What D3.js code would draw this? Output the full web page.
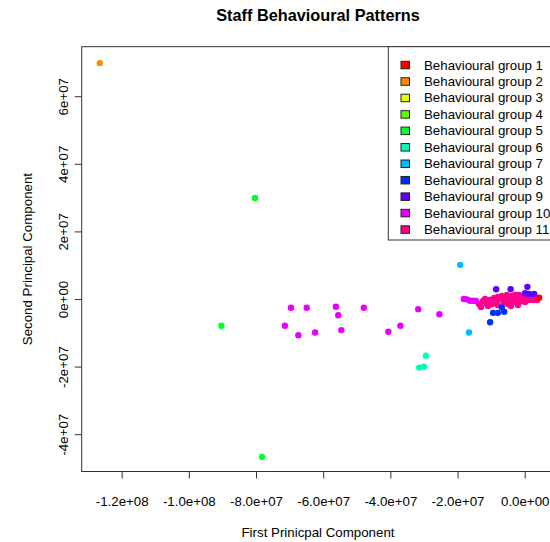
<!DOCTYPE html>
<html>
<head>
<meta charset="utf-8">
<script src="https://cdn.jsdelivr.net/npm/d3@7"></script>
<style>
  body { margin: 0; background: #fff; }
  text { font-family: "Liberation Sans", Arial, Helvetica, sans-serif; fill: #000; }
</style>
</head>
<body>
<div id="scatterPlot"></div>
<script>
// ---- data: [first PC, second PC] per behavioural group ----
const groupNames = ["Behavioural group 1", "Behavioural group 2", "Behavioural group 3",
  "Behavioural group 4", "Behavioural group 5", "Behavioural group 6", "Behavioural group 7",
  "Behavioural group 8", "Behavioural group 9", "Behavioural group 10", "Behavioural group 11"];
const groupColors = ["#FF0000", "#FF8B00", "#E8FF00", "#5DFF00", "#00FF2E", "#00FFB9",
  "#00B9FF", "#002EFF", "#5D00FF", "#E800FF", "#FF008B"];

const group1 = [[4.3e6, 0.4e6]];
const group2 = [[-126.5e6, 69.8e6]];
const group3 = [];
const group4 = [];
const group5 = [[-80.3e6, 29.9e6], [-90.3e6, -7.9e6], [-78.2e6, -46.7e6]];
const group6 = [[-29.4e6, -16.8e6], [-30.0e6, -20.0e6], [-31.4e6, -20.3e6]];
const group7 = [[-19.2e6, 10.1e6], [-16.6e6, -9.9e6]];
const group8 = [[-6.8e6, -2.5e6], [-6.1e6, -3.8e6], [-9.4e6, -4.1e6], [-8.0e6, -4.1e6], [-10.3e6, -6.9e6]];
const group9 = [[-8.5e6, 2.9e6], [-4.2e6, 2.9e6], [0.8e6, 3.6e6], [0.1e6, 1.7e6], [1.3e6, 1.5e6], [2.8e6, 1.5e6]];
const group10 = [[-69.6e6, -2.6e6], [-64.9e6, -2.6e6], [-71.4e6, -7.9e6], [-67.4e6, -10.7e6],
  [-62.4e6, -9.9e6], [-56.2e6, -2.3e6], [-55.5e6, -4.8e6], [-54.6e6, -9.2e6], [-47.9e6, -2.6e6],
  [-40.6e6, -9.7e6], [-37.0e6, -7.9e6], [-31.7e6, -3.0e6], [-25.4e6, -4.5e6], [-18.1e6, 0.0e6],
  [-17.2e6, -0.1e6], [-16.3e6, -0.5e6], [-15.3e6, -0.5e6], [-14.5e6, -0.6e6]];
const group11 = [[-13.6e6, -1.5e6], [-13.0e6, -2.4e6], [-12.4e6, -0.6e6], [-11.5e6, -1.2e6],
  [-10.9e6, -2.1e6], [-10.3e6, -0.3e6], [-9.7e6, -1.5e6], [-9.1e6, 0.3e6], [-8.5e6, -0.9e6],
  [-8.0e6, -1.8e6], [-7.4e6, 0.0e6], [-6.8e6, 0.9e6], [-6.2e6, -0.9e6], [-5.6e6, 0.3e6],
  [-5.0e6, -1.5e6], [-4.4e6, -0.3e6], [-3.8e6, 0.9e6], [-3.2e6, -0.9e6], [-2.6e6, 0.0e6],
  [-2.0e6, -1.8e6], [-1.7e6, 1.2e6], [-1.1e6, -0.6e6], [-0.5e6, 0.3e6], [0.1e6, -0.9e6],
  [0.7e6, 0.6e6], [1.3e6, -0.3e6], [1.9e6, 0.6e6], [2.5e6, -0.3e6], [3.1e6, 0.3e6],
  [3.7e6, -0.3e6], [-8.0e6, 0.6e6], [-5.3e6, 1.2e6], [-2.9e6, 1.2e6], [-4.1e6, -2.1e6],
  [-11.8e6, 0.0e6], [-9.4e6, -0.3e6]];

const groups = [group1, group2, group3, group4, group5, group6, group7, group8, group9, group10, group11];

const xTicks = [-1.2e8, -1.0e8, -8.0e7, -6.0e7, -4.0e7, -2.0e7, 0];
const xTickLabels = ["-1.2e+08", "-1.0e+08", "-8.0e+07", "-6.0e+07", "-4.0e+07", "-2.0e+07", "0.0e+00"];
const yTicks = [-4e7, -2e7, 0, 2e7, 4e7, 6e7];
const yTickLabels = ["-4e+07", "-2e+07", "0e+00", "2e+07", "4e+07", "6e+07"];

// ---- layout ----
const W = 550, H = 542;
const plotLeft = 81.7, plotRight = 554.3, plotTop = 46.7, plotBottom = 471.5;
const fontSize = 13.3;

const svg = d3.select('#scatterPlot').append('svg')
  .attr("width", W)
  .attr("height", H)
  .style("display", "block");

svg.append("rect").attr("width", W).attr("height", H).attr("fill", "#fff");

var x = d3.scaleLinear()
  .domain([-131.9e6, 8.81e6])
  .range([plotLeft, plotRight]);
var y = d3.scaleLinear()
  .domain([-51.04e6, 74.65e6])
  .range([plotBottom, plotTop]);

// points: pink group first so other groups sit on top of it
const drawOrder = [10, 9, 0, 1, 2, 3, 4, 5, 6, 7, 8];
const points = [];
drawOrder.forEach(function (g) {
  groups[g].forEach(function (p) { points.push({ pc1: p[0], pc2: p[1], group: g }); });
});

svg.append('g')
  .selectAll("circle")
  .data(points)
  .enter()
  .append("circle")
    .attr("cx", function (d) { return x(d.pc1); })
    .attr("cy", function (d) { return y(d.pc2); })
    .attr("r", 3.2)
    .style("fill", function (d) { return groupColors[d.group]; });

// box
svg.append("rect")
  .attr("x", plotLeft).attr("y", plotTop)
  .attr("width", plotRight - plotLeft).attr("height", plotBottom - plotTop)
  .attr("fill", "none").attr("stroke", "#333").attr("stroke-width", 1);

// X axis
var xAxis = svg.append("g")
  .attr("transform", "translate(0," + plotBottom + ")")
  .call(d3.axisBottom(x).tickValues(xTicks).tickSize(7).tickPadding(18)
    .tickFormat(function (d, i) { return xTickLabels[i]; }));
xAxis.select(".domain").remove();
xAxis.selectAll("line").attr("stroke", "#333");
xAxis.selectAll("text").style("font-size", fontSize + "px")
  .style("font-family", "'Liberation Sans', Arial, sans-serif");

// Y axis
var yAxis = svg.append("g")
  .attr("transform", "translate(" + plotLeft + ",0)")
  .call(d3.axisLeft(y).tickValues(yTicks).tickSize(7)
    .tickFormat(function (d, i) { return yTickLabels[i]; }));
yAxis.select(".domain").remove();
yAxis.selectAll("line").attr("stroke", "#333");
yAxis.selectAll("text")
  .attr("x", null).attr("dy", null)
  .attr("text-anchor", "middle")
  .attr("transform", "translate(-13.5,0) rotate(-90)")
  .style("font-size", fontSize + "px")
  .style("font-family", "'Liberation Sans', Arial, sans-serif");

// titles
const midX = (plotLeft + plotRight) / 2;
svg.append("text")
  .attr("x", midX).attr("y", 21)
  .attr("text-anchor", "middle")
  .style("font-size", "16.3px").style("font-weight", "bold")
  .text("Staff Behavioural Patterns");
svg.append("text")
  .attr("x", midX).attr("y", 537)
  .attr("text-anchor", "middle")
  .style("font-size", fontSize + "px")
  .text("First Prinicpal Component");
svg.append("text")
  .attr("transform", "translate(32," + ((plotTop + plotBottom) / 2) + ") rotate(-90)")
  .attr("text-anchor", "middle")
  .style("font-size", fontSize + "px")
  .text("Second Principal Component");

// legend
const legendLeft = 388.3, legendBottom = 240, rowStart = 64.8, rowStep = 16.45;
svg.append("rect")
  .attr("x", legendLeft).attr("y", plotTop)
  .attr("width", plotRight - legendLeft).attr("height", legendBottom - plotTop)
  .attr("fill", "#fff").attr("stroke", "#333").attr("stroke-width", 1);

var legendRows = svg.append("g").selectAll("g")
  .data(groupNames)
  .enter()
  .append("g")
    .attr("transform", function (d, i) { return "translate(0," + (rowStart + i * rowStep) + ")"; });
legendRows.append("rect")
  .attr("x", 401).attr("y", -3.5)
  .attr("width", 8.5).attr("height", 7.5)
  .attr("fill", function (d, i) { return groupColors[i]; })
  .attr("stroke", "#222").attr("stroke-width", 1);
legendRows.append("text")
  .attr("x", 424).attr("y", 4.7)
  .style("font-size", fontSize + "px")
  .text(function (d) { return d; });
</script>
</body>
</html>
